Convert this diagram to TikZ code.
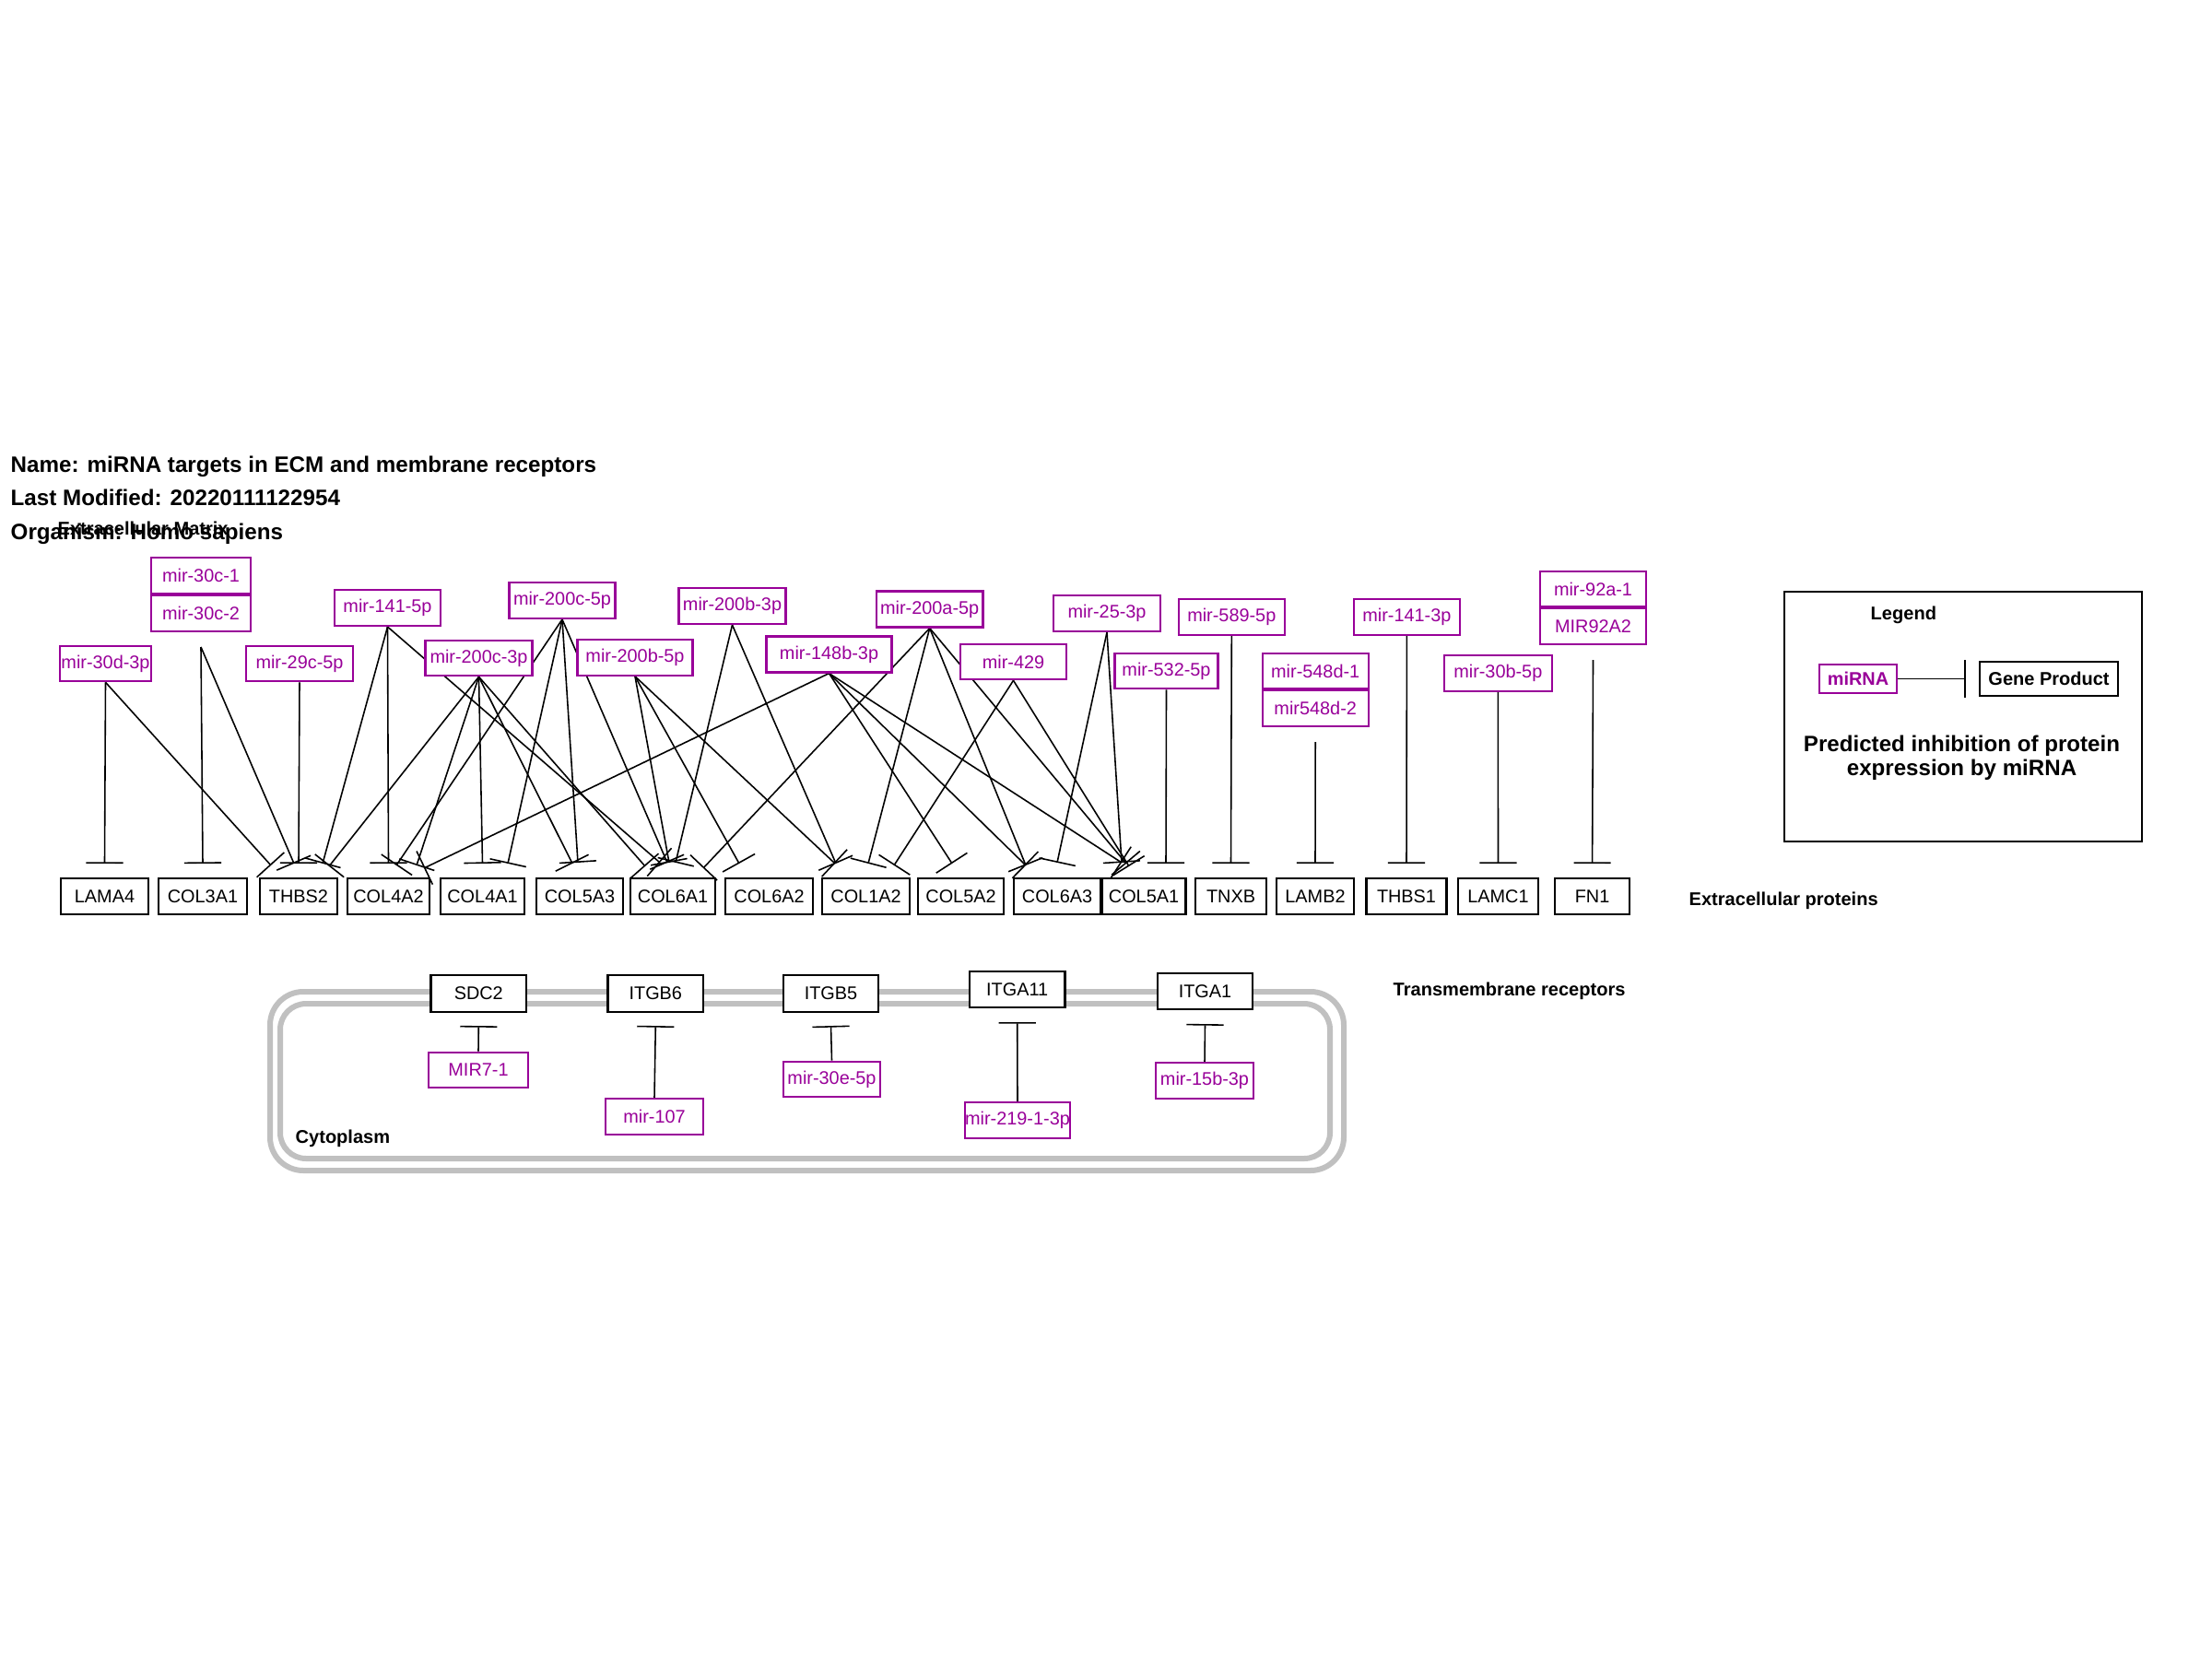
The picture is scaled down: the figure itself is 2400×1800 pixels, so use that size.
\documentclass[tikz,border=0pt]{standalone}
\usepackage{fontspec}
\setmainfont{Liberation Sans}
\usetikzlibrary{arrows.meta}
\pgfdeclarelayer{bg}
\pgfsetlayers{bg,main}
\definecolor{mirpurple}{RGB}{153,0,153}
\definecolor{memgray}{RGB}{192,192,192}
\begin{document}
\begin{tikzpicture}[x=0.01cm,y=-0.01cm,
  lab/.style={font=\fontsize{5.65pt}{6.5pt}\selectfont},
  gene/.style={draw=black, line width=0.6pt, fill=white, minimum height=0.39cm, inner sep=0pt, lab},
  mir/.style={draw=mirpurple, text=mirpurple, line width=0.6pt, fill=white, minimum height=0.385cm, inner sep=0pt, lab},
  inh/.style={line width=0.45pt, -{Bar[width=11.4pt,line width=0.45pt]}},
  bold/.style={font=\bfseries\fontsize{5.7pt}{6.5pt}\selectfont, inner sep=0pt},
  ttl/.style={font=\bfseries\fontsize{6.88pt}{8pt}\selectfont, anchor=base west, inner sep=0pt}]
\useasboundingbox (0,0) rectangle (2400,1800);

% titles
\node[ttl] (t1) at (11,512) {Name: miRNA targets in ECM and membrane receptors};
\node[ttl] (t2) at (11,548) {Last Modified: 20220111122954};
\node[ttl] (t3) at (11,585) {Organism: Homo sapiens};
\node[bold, anchor=base west] (ecm) at (62,580) {Extracellular Matrix};
\node[bold, anchor=base west] (exp) at (1832,982) {Extracellular proteins};
\node[bold, anchor=base west] (tmr) at (1511,1080) {Transmembrane receptors};

% cell membrane
\draw[memgray, line width=0.06cm, rounded corners=0.36cm] (293,1076) rectangle (1458,1270);
\draw[memgray, line width=0.06cm, rounded corners=0.28cm] (304,1089) rectangle (1443,1257);
\node[bold, anchor=base west] (cyt) at (320,1240) {Cytoplasm};

% genes
\node[gene, minimum width=0.95cm] (LAMA4) at (113.5,972.5) {LAMA4};
\node[gene, minimum width=0.96cm] (COL3A1) at (220,972.5) {COL3A1};
\node[gene, minimum width=0.84cm] (THBS2) at (324,972.5) {THBS2};
\node[gene, minimum width=0.89cm] (COL4A2) at (421.5,972.5) {COL4A2};
\node[gene, minimum width=0.91cm] (COL4A1) at (523.5,972.5) {COL4A1};
\node[gene, minimum width=0.94cm] (COL5A3) at (629,972.5) {COL5A3};
\node[gene, minimum width=0.92cm] (COL6A1) at (730,972.5) {COL6A1};
\node[gene, minimum width=0.95cm] (COL6A2) at (834.5,972.5) {COL6A2};
\node[gene, minimum width=0.95cm] (COL1A2) at (939.5,972.5) {COL1A2};
\node[gene, minimum width=0.93cm] (COL5A2) at (1042.5,972.5) {COL5A2};
\node[gene, minimum width=0.94cm] (COL6A3) at (1147,972.5) {COL6A3};
\node[gene, minimum width=0.91cm] (COL5A1) at (1241,972.5) {COL5A1};
\node[gene, minimum width=0.77cm] (TNXB) at (1335.5,972.5) {TNXB};
\node[gene, minimum width=0.84cm] (LAMB2) at (1427,972.5) {LAMB2};
\node[gene, minimum width=0.87cm] (THBS1) at (1526,972.5) {THBS1};
\node[gene, minimum width=0.875cm] (LAMC1) at (1625.5,972.5) {LAMC1};
\node[gene, minimum width=0.81cm] (FN1) at (1727.6,972.5) {FN1};

% miRNAs (ECM)
\node[mir, minimum width=0.99cm] (m30d) at (114.5,720) {mir-30d-3p};
\node[mir, minimum width=1.08cm, minimum height=0.39cm] (m30c1) at (218,624.5) {mir-30c-1};
\node[mir, minimum width=1.08cm, minimum height=0.39cm] (m30c2) at (218,665.5) {mir-30c-2};
\coordinate (g30c) at (218,702);
\node[mir, minimum width=1.16cm] (m29c) at (325,720) {mir-29c-5p};
\node[mir, minimum width=1.15cm, minimum height=0.39cm] (m141a) at (420.5,659.5) {mir-141-5p};
\node[mir, minimum width=1.15cm, minimum height=0.39cm] (m200c5) at (610,651.5) {mir-200c-5p};
\node[mir, minimum width=1.16cm] (m200c3) at (519.5,714) {mir-200c-3p};
\node[mir, minimum width=1.25cm] (m200b5) at (689,713.5) {mir-200b-5p};
\node[mir, minimum width=1.16cm, minimum height=0.39cm] (m200b3) at (794.5,657.5) {mir-200b-3p};
\node[mir, minimum width=1.36cm, minimum height=0.39cm] (m148b) at (899.5,710) {mir-148b-3p};
\node[mir, minimum width=1.155cm, minimum height=0.39cm] (m200a5) at (1008.7,661) {mir-200a-5p};
\node[mir, minimum width=1.15cm] (m429) at (1099.5,718) {mir-429};
\node[mir, minimum width=1.16cm, minimum height=0.39cm] (m25) at (1201,665.5) {mir-25-3p};
\node[mir, minimum width=1.12cm] (m532) at (1265.5,728) {mir-532-5p};
\node[mir, minimum width=1.154cm, minimum height=0.39cm] (m589) at (1336.3,669.5) {mir-589-5p};
\node[mir, minimum width=1.15cm] (m548a) at (1427.2,728) {mir-548d-1};
\node[mir, minimum width=1.15cm, minimum height=0.39cm] (m548b) at (1427.2,768.5) {mir548d-2};
\coordinate (g548) at (1427.2,805);
\node[mir, minimum width=1.15cm, minimum height=0.39cm] (m141b) at (1526.4,669.5) {mir-141-3p};
\node[mir, minimum width=1.165cm, minimum height=0.39cm] (m30b) at (1625.3,730.3) {mir-30b-5p};
\node[mir, minimum width=1.15cm] (m92a) at (1728.5,639) {mir-92a-1};
\node[mir, minimum width=1.15cm, minimum height=0.39cm] (m92b) at (1728.5,679.5) {MIR92A2};
\coordinate (g92) at (1728.5,716);

% receptors
\node[gene, minimum width=1.035cm, minimum height=0.40cm] (SDC2) at (519.3,1078) {SDC2};
\node[gene, minimum width=1.035cm, minimum height=0.40cm] (ITGB6) at (711.3,1078) {ITGB6};
\node[gene, minimum width=1.03cm, minimum height=0.40cm] (ITGB5) at (901.5,1078) {ITGB5};
\node[gene, minimum width=1.035cm] (ITGA11) at (1103.7,1073.5) {ITGA11};
\node[gene, minimum width=1.03cm] (ITGA1) at (1307.5,1075.5) {ITGA1};

% miRNAs (receptors)
\node[mir, minimum width=1.08cm] (mir7) at (519,1161) {MIR7-1};
\node[mir, minimum width=1.06cm, minimum height=0.39cm] (m107) at (710,1211.5) {mir-107};
\node[mir, minimum width=1.05cm] (m30e) at (902.5,1171) {mir-30e-5p};
\node[mir, minimum width=1.12cm, minimum height=0.39cm] (m219) at (1104,1215.5) {mir-219-1-3p};
\node[mir, minimum width=1.06cm, minimum height=0.39cm] (m15b) at (1307,1172.5) {mir-15b-3p};

% legend
\draw[line width=0.45pt] (1936,642) rectangle (2324,913);
\node[bold, anchor=base west] (legt) at (2029,672) {Legend};
\node[mir, font=\bfseries\fontsize{5.66pt}{6.5pt}\selectfont, minimum width=0.84cm, minimum height=0.31cm] (lmir) at (2016,736.5) {miRNA};
\node[gene, font=\bfseries\fontsize{5.69pt}{6.5pt}\selectfont, minimum width=1.5cm, minimum height=0.37cm] (lgene) at (2223,736.5) {Gene Product};
\coordinate (lbar) at (2133,736.5);
\node[font=\bfseries\fontsize{6.86pt}{7.5pt}\selectfont, align=center, inner sep=0pt] (lcap) at (2128.5,822) {Predicted inhibition of protein\\expression by miRNA};

\begin{pgfonlayer}{bg}
\draw[inh] (lmir.east) -- (lbar);
% ECM edges
\draw[inh] (m30d.south) -- ([shift={(0,-15)}]LAMA4.north);
\draw[inh] (m30d.south) -- ([shift={(-30,-13)}]THBS2.north);
\draw[inh] (g30c) -- ([shift={(0,-15)}]COL3A1.north);
\draw[inh] (g30c) -- ([shift={(-5,-15)}]THBS2.north);
\draw[inh] (m29c.south) -- ([shift={(0,-15)}]THBS2.north);
\draw[inh] (m141a.south) -- ([shift={(26,-15)}]THBS2.north);
\draw[inh] (m141a.south) -- ([shift={(0,-15)}]COL4A2.north);
\draw[inh] (m141a.south) -- ([shift={(-14,-16)}]COL6A1.north);
\draw[inh] (m200c3.south) -- ([shift={(33,-12)}]THBS2.north);
\draw[inh] (m200c3.south) -- ([shift={(30.5,-13)}]COL4A2.north);
\draw[inh] (m200c3.south) -- ([shift={(0,-15)}]COL4A1.north);
\draw[inh] (m200c3.south) -- ([shift={(-8,-15)}]COL5A3.north);
\draw[inh] (m200c3.south) -- ([shift={(-30,-12)}]COL6A1.north);
\draw[inh] (m200c5.south) -- ([shift={(8.5,-13)}]COL4A2.north);
\draw[inh] (m200c5.south) -- ([shift={(27.5,-15)}]COL4A1.north);
\draw[inh] (m200c5.south) -- ([shift={(-2,-16)}]COL5A3.north);
\draw[inh] (m200c5.south) -- ([shift={(-6,-16)}]COL6A1.north);
\draw[inh] (m200b5.south) -- ([shift={(-4,-16)}]COL6A1.north);
\draw[inh] (m200b5.south) -- ([shift={(-32.5,-15)}]COL6A2.north);
\draw[inh] (m200b5.south) -- ([shift={(-33.5,-15)}]COL1A2.north);
\draw[inh] (m200b3.south) -- ([shift={(3,-16)}]COL6A1.north);
\draw[inh] (m200b3.south) -- ([shift={(-32.5,-15)}]COL1A2.north);
\draw[inh] (m148b.south) -- ([shift={(38.5,-10)}]COL4A2.north);
\draw[inh] (m148b.south) -- ([shift={(-9.5,-15)}]COL5A2.north);
\draw[inh] (m148b.south) -- ([shift={(-34,-13)}]COL6A3.north);
\draw[inh] (m148b.south) -- ([shift={(-24,-16)}]COL5A1.north);
\draw[inh] (m200a5.south) -- ([shift={(33,-10)}]COL6A1.north);
\draw[inh] (m200a5.south) -- ([shift={(2.5,-15)}]COL1A2.north);
\draw[inh] (m200a5.south) -- ([shift={(-34,-13)}]COL6A3.north);
\draw[inh] (m200a5.south) -- ([shift={(-19,-15)}]COL5A1.north);
\draw[inh] (m429.south) -- ([shift={(30.5,-13)}]COL1A2.north);
\draw[inh] (m429.south) -- ([shift={(-16,-12)}]COL5A1.north);
\draw[inh] (m25.south) -- ([shift={(0,-16)}]COL6A3.north);
\draw[inh] (m25.south) -- ([shift={(-24,-16)}]COL5A1.north);
\draw[inh] (m532.south) -- ([shift={(24,-15)}]COL5A1.north);
\draw[inh] (m589.south) -- ([shift={(0,-15)}]TNXB.north);
\draw[inh] (g548) -- ([shift={(0,-15)}]LAMB2.north);
\draw[inh] (m141b.south) -- ([shift={(0,-15)}]THBS1.north);
\draw[inh] (m30b.south) -- ([shift={(0,-15)}]LAMC1.north);
\draw[inh] (g92) -- ([shift={(0,-15)}]FN1.north);
% receptor edges
\draw[inh] (mir7.north) -- ([shift={(0,14)}]SDC2.south);
\draw[inh] (m107.north) -- ([shift={(0,14)}]ITGB6.south);
\draw[inh] (m30e.north) -- ([shift={(0,14)}]ITGB5.south);
\draw[inh] (m219.north) -- ([shift={(0,15)}]ITGA11.south);
\draw[inh] (m15b.north) -- ([shift={(0,15)}]ITGA1.south);
\end{pgfonlayer}
\end{tikzpicture}
\end{document}
